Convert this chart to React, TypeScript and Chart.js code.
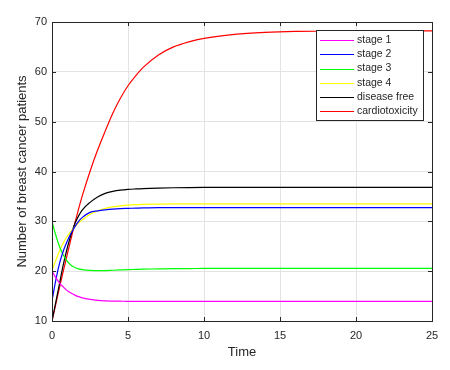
import React, { useEffect, useRef } from "react";
import { Chart, registerables } from "chart.js";

Chart.register(...registerables);

const time = [0, 0.25, 0.5, 0.75, 1, 1.25, 1.5, 1.75, 2, 2.5, 3, 3.5, 4, 4.5, 5, 5.5, 6, 7, 8, 9, 10, 12, 14, 16, 18, 20, 22, 25];
const stage1 = [20, 18.7, 17.6, 16.8, 16.1, 15.6, 15.2, 14.9, 14.65, 14.35, 14.15, 14.05, 14.0, 13.97, 13.95, 13.95, 13.95, 13.95, 13.95, 13.95, 13.95, 13.95, 13.95, 13.95, 13.95, 13.95, 13.95, 13.95];
const stage2 = [14, 18.2, 21.6, 24.1, 26.0, 27.6, 28.9, 30.0, 30.8, 31.8, 32.1, 32.3, 32.45, 32.55, 32.6, 32.65, 32.7, 32.75, 32.75, 32.75, 32.75, 32.75, 32.75, 32.75, 32.75, 32.75, 32.75, 32.75];
const stage3 = [30, 27.2, 24.9, 23.2, 22.0, 21.2, 20.75, 20.45, 20.3, 20.15, 20.1, 20.12, 20.18, 20.24, 20.3, 20.35, 20.4, 20.45, 20.5, 20.52, 20.55, 20.57, 20.57, 20.57, 20.57, 20.57, 20.57, 20.57];
const stage4 = [20.2, 22.2, 24.1, 25.7, 27.0, 28.0, 28.9, 29.7, 30.3, 31.4, 32.1, 32.6, 32.9, 33.1, 33.25, 33.35, 33.4, 33.45, 33.5, 33.5, 33.5, 33.5, 33.5, 33.5, 33.5, 33.5, 33.5, 33.5];
const diseaseFree = [10, 13.8, 17.6, 21.4, 24.6, 27.3, 29.5, 31.1, 32.3, 33.8, 34.9, 35.6, 36.0, 36.25, 36.4, 36.5, 36.58, 36.68, 36.74, 36.78, 36.8, 36.8, 36.8, 36.8, 36.8, 36.8, 36.8, 36.8];
const cardiotoxicity = [10, 13.4, 16.8, 20.1, 23.3, 26.5, 29.6, 32.5, 35.2, 40.0, 44.3, 48.1, 51.7, 54.7, 57.2, 59.2, 60.9, 63.4, 65.0, 66.0, 66.7, 67.5, 67.9, 68.1, 68.15, 68.2, 68.2, 68.2];

const seriesLabels = ["stage 1", "stage 2", "stage 3", "stage 4", "disease free", "cardiotoxicity"];
const seriesValues = [stage1, stage2, stage3, stage4, diseaseFree, cardiotoxicity];
const seriesColors = ["#ff00ff", "#0000ff", "#00ff00", "#ffff00", "#000000", "#ff0000"];

const xTitle = "Time";
const yTitle = "Number of breast cancer patients";

const FONT = '"Liberation Sans", Arial, Helvetica, sans-serif';
const AXIS_COLOR = "#262626";

const boxPlugin = {
  id: "matlabBox",
  afterDraw(chart: any) {
    const { ctx, chartArea } = chart;
    const xs = chart.scales.x;
    const ys = chart.scales.y;
    ctx.save();
    ctx.strokeStyle = AXIS_COLOR;
    ctx.lineWidth = 1;
    ctx.beginPath();
    xs.ticks.forEach((t: any) => {
      const px = Math.round(xs.getPixelForValue(t.value)) + 0.5;
      ctx.moveTo(px, chartArea.bottom);
      ctx.lineTo(px, chartArea.bottom - 4);
      ctx.moveTo(px, chartArea.top);
      ctx.lineTo(px, chartArea.top + 4);
    });
    ys.ticks.forEach((t: any) => {
      const py = Math.round(ys.getPixelForValue(t.value)) + 0.5;
      ctx.moveTo(chartArea.left, py);
      ctx.lineTo(chartArea.left + 4, py);
      ctx.moveTo(chartArea.right, py);
      ctx.lineTo(chartArea.right - 4, py);
    });
    ctx.stroke();
    ctx.strokeRect(
      Math.round(chartArea.left) + 0.5,
      Math.round(chartArea.top) + 0.5,
      Math.round(chartArea.right - chartArea.left),
      Math.round(chartArea.bottom - chartArea.top)
    );

    // legend
    const datasets = chart.data.datasets;
    ctx.font = `10.5px ${FONT}`;
    const rowH = 14.26;
    const lineLen = 34;
    let textW = 0;
    datasets.forEach((d: any) => {
      textW = Math.max(textW, ctx.measureText(d.label).width);
    });
    const boxW = Math.round(4 + lineLen + 3 + textW + 5);
    const boxH = Math.round(rowH * datasets.length + 4);
    const right = Math.round(chartArea.right - 9);
    const left = right - boxW;
    const top = Math.round(chartArea.top + 8);
    ctx.fillStyle = "#ffffff";
    ctx.fillRect(left, top, boxW, boxH);
    ctx.strokeStyle = AXIS_COLOR;
    ctx.strokeRect(left + 0.5, top + 0.5, boxW, boxH);
    ctx.textBaseline = "middle";
    ctx.textAlign = "left";
    datasets.forEach((d: any, i: number) => {
      const cy = top + 10 + i * rowH;
      ctx.strokeStyle = d.borderColor;
      ctx.lineWidth = 1.2;
      ctx.beginPath();
      ctx.moveTo(left + 4, Math.round(cy) + 0.5);
      ctx.lineTo(left + 4 + lineLen, Math.round(cy) + 0.5);
      ctx.stroke();
      ctx.fillStyle = AXIS_COLOR;
      ctx.fillText(d.label, left + 4 + lineLen + 3, cy);
    });
    ctx.restore();
  },
};

export default function App() {
  const ref = useRef<HTMLCanvasElement | null>(null);

  useEffect(() => {
    document.body.style.margin = "0";
    const canvas = ref.current;
    if (!canvas) return;
    const chart = new Chart(canvas, {
      type: "line",
      data: {
        datasets: seriesLabels.map((label, i) => ({
          label,
          data: time.map((t, j) => ({ x: t, y: seriesValues[i][j] })),
          borderColor: seriesColors[i],
          backgroundColor: seriesColors[i],
          borderWidth: 1.2,
          pointRadius: 0,
          fill: false,
          cubicInterpolationMode: "monotone" as const,
        })),
      },
      options: {
        animation: false,
        responsive: false,
        maintainAspectRatio: false,
        layout: { padding: { left: 0, right: 18, top: 22, bottom: 0 } },
        plugins: {
          legend: { display: false },
          tooltip: { enabled: false },
        },
        scales: {
          x: {
            type: "linear",
            min: 0,
            max: 25,
            ticks: {
              stepSize: 5,
              color: AXIS_COLOR,
              padding: 8,
              font: { family: FONT, size: 11 },
            },
            grid: { color: "#e3e3e3", drawTicks: false },
            border: { display: false },
            title: {
              display: true,
              text: xTitle,
              color: AXIS_COLOR,
              font: { family: FONT, size: 13 },
              padding: { top: 0, bottom: 10 },
            },
            afterFit(scale: any) {
              scale.height = 49;
            },
          },
          y: {
            type: "linear",
            min: 10,
            max: 70,
            ticks: {
              stepSize: 10,
              color: AXIS_COLOR,
              padding: 5,
              font: { family: FONT, size: 11 },
            },
            grid: { color: "#e3e3e3", drawTicks: false },
            border: { display: false },
            title: {
              display: true,
              text: yTitle,
              color: AXIS_COLOR,
              font: { family: FONT, size: 13 },
              padding: { top: 15, bottom: 0 },
            },
            afterFit(scale: any) {
              scale.width = 52;
            },
          },
        },
      },
      plugins: [boxPlugin],
    });
    return () => chart.destroy();
  }, []);

  return <canvas ref={ref} width={450} height={370} style={{ display: "block" }} />;
}
